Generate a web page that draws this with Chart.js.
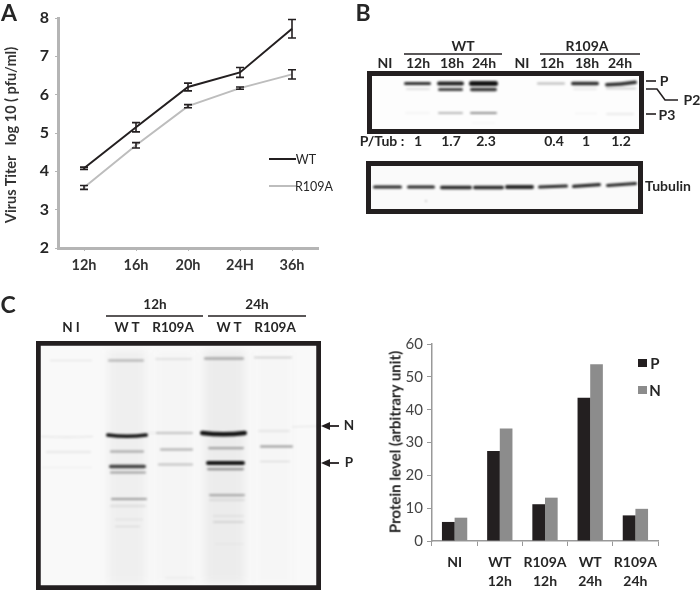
<!DOCTYPE html>
<html>
<head>
<meta charset="utf-8">
<script src="https://cdn.jsdelivr.net/npm/chart.js@4"></script>
<style>
  html, body { margin: 0; padding: 0; background: #fff; }
  #page { position: relative; width: 700px; height: 590px; overflow: hidden; font-family: Lato, "Open Sans", sans-serif; color: #262626; }
  canvas { position: absolute; }
  .t { position: absolute; white-space: pre; transform: translate(-50%, -50%); line-height: 1; }
</style>
</head>
<body>
<div id="page">
  <canvas id="blots" width="700" height="590" style="left:0;top:0"></canvas>
  <canvas id="chart-titer" width="340" height="290" style="left:0;top:0"></canvas>
  <canvas id="chart-protein" width="300" height="260" style="left:380px;top:330px"></canvas>
</div>
<script>
// Panel A data
const titerTimes = ["12h", "16h", "20h", "24H", "36h"];
const titerWT = [4.08, 5.15, 6.2, 6.58, 7.72];
const titerWTErr = [0.03, 0.12, 0.1, 0.13, 0.24];
const titerR109A = [3.58, 4.68, 5.7, 6.17, 6.53];
const titerR109AErr = [0.05, 0.07, 0.04, 0.03, 0.12];

// Panel C bar data
const proteinGroups = [["NI"], ["WT", "12h"], ["R109A", "12h"], ["WT", "24h"], ["R109A", "24h"]];
const proteinP = [5.8, 27.4, 11.2, 43.6, 7.8];
const proteinN = [7.1, 34.3, 13.2, 53.8, 9.8];

const page = document.getElementById("page");

function label(text, x, y, size, weight, opts) {
  opts = opts || {};
  const el = document.createElement("div");
  el.className = "t";
  el.textContent = text;
  el.style.left = x + "px";
  el.style.top = y + "px";
  el.style.fontSize = size + "px";
  el.style.fontWeight = weight;
  if (opts.color) el.style.color = opts.color;
  if (opts.rotate) el.style.transform = "translate(-50%, -50%) rotate(" + opts.rotate + "deg)";
  if (opts.spacing) el.style.letterSpacing = opts.spacing + "px";
  page.appendChild(el);
}

// Panel letters
label("A", 9, 12, 23, 700);
label("B", 363, 12, 23, 700);
label("C", 8, 304, 23, 700);

// Panel A text
label("Virus Titer   log 10 ( pfu/ml)", 11, 135, 14.5, 700, { rotate: -90, color: "#333" });
label("WT", 306, 160, 12.5, 400);
label("R109A", 314, 187, 12.5, 400);

// Panel B text
label("WT", 463, 46, 14, 700);
label("R109A", 587, 46, 14, 700);
[["NI", 385], ["12h", 418], ["18h", 452], ["24h", 484], ["NI", 522], ["12h", 552], ["18h", 587], ["24h", 620]]
  .forEach(l => label(l[0], l[1], 63, 14, 700));
[["P/Tub :", 382], ["1", 418], ["1.7", 451], ["2.3", 486], ["0.4", 554], ["1", 586], ["1.2", 621]]
  .forEach(l => label(l[0], l[1], 141, 14, 700));
label("P", 664, 81, 14, 700);
label("P2", 692, 100, 14, 700);
label("P3", 667, 115, 14, 700);
label("Tubulin", 668, 186, 14, 700);

// Panel C gel text
label("12h", 155, 305, 13.5, 700);
label("24h", 257, 305, 13.5, 700);
[["N I", 71], ["W T", 127], ["R109A", 173], ["W T", 229], ["R109A", 275]]
  .forEach(l => label(l[0], l[1], 328, 13.5, 700));
label("N", 349, 426, 13.5, 700);
label("P", 349, 463, 13.5, 700);

// Panel C bar chart text
label("Protein level (arbitrary unit)", 395, 442, 15, 700, { rotate: -90 });
label("P", 655, 363, 15, 700);
label("N", 655, 390, 15, 700);

// Blots are pictures in the original, just painted here
const ctx = document.getElementById("blots").getContext("2d");

function frame(x0, y0, x1, y1, w, bg) {
  ctx.fillStyle = bg;
  ctx.fillRect(x0, y0, x1 - x0, y1 - y0);
  ctx.strokeStyle = "#231f20";
  ctx.lineWidth = w;
  ctx.strokeRect(x0 + w / 2, y0 + w / 2, x1 - x0 - w, y1 - y0 - w);
}

// tilt lifts the right end, sag pushes the middle down
function band(x0, x1, y, h, alpha, tilt, sag) {
  tilt = tilt || 0;
  // weak bands read thinner and paler than their first estimate
  if (alpha < 0.6) {
    h *= 0.75;
    alpha *= 0.85;
  }
  ctx.save();
  ctx.filter = "blur(0.8px)";
  ctx.strokeStyle = "rgba(20,20,20," + alpha + ")";
  ctx.lineWidth = h;
  ctx.lineCap = "round";
  ctx.beginPath();
  ctx.moveTo(x0 + h / 2, y + tilt);
  ctx.quadraticCurveTo((x0 + x1) / 2, y + (sag || 0) * 2, x1 - h / 2, y - tilt);
  ctx.stroke();
  ctx.restore();
}

function smear(x0, x1, y0, y1, alpha) {
  ctx.save();
  ctx.filter = "blur(5px)";
  ctx.fillStyle = "rgba(90,90,90," + alpha + ")";
  ctx.fillRect(x0, y0, x1 - x0, y1 - y0);
  ctx.restore();
}

function stroke(points, w) {
  ctx.strokeStyle = "#231f20";
  ctx.lineWidth = w;
  ctx.beginPath();
  points.forEach((p, i) => i ? ctx.lineTo(p[0], p[1]) : ctx.moveTo(p[0], p[1]));
  ctx.stroke();
}

// Panel B top blot
frame(367, 71, 644, 134, 5, "#fdfdfd");
[[404, 431, 0.9, 3], [437, 464, 0.95, 4], [469, 498, 1, 5], [537, 565, 0.35, 2.6], [571, 599, 0.9, 3.4]]
  .forEach(b => band(b[0], b[1], 83.5, b[3], b[2]));
band(605, 637, 83.5, 3.6, 0.9, 1.2, 0.6);
band(406, 430, 89, 2, 0.2);
band(438, 463, 89.5, 3, 0.8);
band(470, 497, 89.5, 3.5, 0.85);
band(573, 597, 89, 1.8, 0.13);
band(606, 636, 88.5, 2, 0.28);
band(405, 430, 113, 1.5, 0.08);
band(438, 463, 113, 2.4, 0.35);
band(470, 497, 113, 2.6, 0.55);
band(575, 597, 113.5, 1.5, 0.06);
band(606, 634, 114, 2, 0.13);
band(472, 495, 123, 1.2, 0.06);

// Panel B tubulin blot
frame(366, 161, 643, 214, 5, "#fafafa");
[[373, 402, 187, 3.2, 0], [407, 435, 187, 3.2, 0], [440, 472, 187.5, 3.4, 0], [473, 504, 187.5, 3.6, 0],
  [505, 534, 187, 3.8, 0], [538, 568, 186.5, 3.2, 0.5], [572, 601, 185.5, 3.2, 0.8], [606, 637, 184.5, 3, 1]]
  .forEach(b => band(b[0], b[1], b[2], b[3], 0.92, b[4]));
band(425, 427, 201, 1.2, 0.5);

// Panel B brackets
stroke([[404, 54], [502, 54]], 1.4);
stroke([[540, 54], [640, 54]], 1.4);
stroke([[646, 81], [656, 81]], 1.6);
stroke([[646, 89], [657, 89], [665, 100], [678, 100]], 1.6);
stroke([[646, 114], [656, 114]], 1.6);

// Panel C gel
frame(36, 341, 321, 590, 4.5, "#f9f9f9");
smear(108, 146, 350, 584, 0.06);
smear(156, 193, 352, 584, 0.025);
smear(204, 245, 350, 584, 0.08);
smear(256, 292, 352, 584, 0.015);
ctx.strokeStyle = "#231f20";
ctx.lineWidth = 4.5;
ctx.strokeRect(38.25, 343.25, 280.5, 244.5);

// top band
band(50, 92, 360.5, 1.5, 0.12);
band(108, 144, 360.5, 2.6, 0.35);
band(155, 192, 359, 2, 0.14);
band(204, 244, 358.5, 3.4, 0.38);
band(254, 292, 357.5, 2.2, 0.22);
// N
band(41, 93, 436.5, 1.5, 0.13, 0, 0.6);
band(106, 148, 435, 3.6, 1, 0, 1.2);
band(148, 157, 433, 1.2, 0.12);
band(156, 193, 433, 2, 0.35);
band(200, 247, 433, 4.6, 1, 0, 1.2);
band(258, 290, 431, 2, 0.12);
band(292, 318, 426.5, 1.2, 0.12, 0.4);
// middle band
band(46, 91, 452, 1.5, 0.18);
band(110, 144, 451.5, 2.4, 0.42);
band(160, 193, 449.5, 2.4, 0.38);
band(208, 244, 448, 3, 0.4);
band(260, 293, 446.5, 2.6, 0.5);
// P
band(42, 92, 467.5, 1.2, 0.07);
band(109, 146, 466.5, 3.6, 0.8);
band(158, 193, 464.5, 2.4, 0.28);
band(206, 245, 463, 4.2, 1);
band(260, 290, 461.5, 1.6, 0.18);
band(110, 146, 472.5, 2.6, 0.45);
band(207, 244, 469, 3, 0.5);
// low bands
band(111, 147, 499, 2.6, 0.45);
band(110, 146, 506, 1.6, 0.2);
band(209, 245, 495, 3, 0.38);
band(209, 245, 500, 1.8, 0.14);
band(115, 143, 519.5, 1.5, 0.1);
band(115, 140, 526.5, 1.5, 0.14);
band(213, 244, 516, 1.5, 0.12);
band(213, 244, 522, 1.8, 0.17);
band(215, 244, 544, 1.5, 0.06);
band(165, 195, 578, 1.5, 0.08);

// Panel C header lines and arrows
stroke([[106, 316], [203, 316]], 1.4);
stroke([[208, 316], [306, 316]], 1.4);
[426, 463].forEach(y => {
  stroke([[329, y], [339, y]], 1.8);
  ctx.fillStyle = "#231f20";
  ctx.beginPath();
  ctx.moveTo(321, y);
  ctx.lineTo(330, y - 4);
  ctx.lineTo(330, y + 4);
  ctx.fill();
});

// Legend swatches and keys
stroke([[269, 159], [296, 159]], 2);
ctx.strokeStyle = "#bdbdbd";
ctx.lineWidth = 2;
ctx.beginPath();
ctx.moveTo(269, 186);
ctx.lineTo(296, 186);
ctx.stroke();
ctx.fillStyle = "#231f20";
ctx.fillRect(638, 359, 9, 8);
ctx.fillStyle = "#8c8c8c";
ctx.fillRect(638, 386, 9, 8);

// Error bars are not in Chart.js core
const errorBars = {
  id: "errorBars",
  afterDatasetsDraw(chart) {
    const c = chart.ctx;
    const y = chart.scales.y;
    chart.data.datasets.forEach((ds, i) => {
      chart.getDatasetMeta(i).data.forEach((pt, j) => {
        const top = y.getPixelForValue(ds.data[j] + ds.errors[j]);
        const bot = y.getPixelForValue(ds.data[j] - ds.errors[j]);
        c.save();
        c.strokeStyle = "#231f20";
        c.lineWidth = 1.6;
        c.beginPath();
        c.moveTo(pt.x, top);
        c.lineTo(pt.x, bot);
        c.moveTo(pt.x - 4, top);
        c.lineTo(pt.x + 4, top);
        c.moveTo(pt.x - 4, bot);
        c.lineTo(pt.x + 4, bot);
        c.stroke();
        c.restore();
      });
    });
  }
};

new Chart(document.getElementById("chart-titer"), {
  type: "line",
  plugins: [errorBars],
  data: {
    labels: titerTimes,
    datasets: [
      { label: "WT", data: titerWT, errors: titerWTErr, borderColor: "#231f20", borderWidth: 2, pointRadius: 0, tension: 0 },
      { label: "R109A", data: titerR109A, errors: titerR109AErr, borderColor: "#bdbdbd", borderWidth: 2, pointRadius: 0, tension: 0 }
    ]
  },
  options: {
    responsive: false,
    animation: false,
    layout: { padding: { top: 18, right: 22 } },
    plugins: { legend: { display: false }, tooltip: { enabled: false } },
    scales: {
      x: {
        offset: true,
        afterFit: s => { s.height = 42; },
        grid: { drawOnChartArea: false, offset: false, color: "#b5b5b5", tickLength: 3 },
        border: { color: "#b5b5b5", width: 3 },
        ticks: { color: "#333", padding: 6, font: { family: "Lato", size: 14.5, weight: "bold" } }
      },
      y: {
        min: 2,
        max: 8,
        afterFit: s => { s.width = 58; },
        grid: { drawOnChartArea: false, color: "#b5b5b5", tickLength: 3 },
        border: { color: "#b5b5b5", width: 3 },
        ticks: { stepSize: 1, color: "#262626", padding: 6, font: { family: "Lato", size: 16, weight: "bold" } }
      }
    }
  }
});

new Chart(document.getElementById("chart-protein"), {
  type: "bar",
  data: {
    labels: proteinGroups,
    datasets: [
      { label: "P", data: proteinP, backgroundColor: "#231f20" },
      { label: "N", data: proteinN, backgroundColor: "#8c8c8c" }
    ]
  },
  options: {
    responsive: false,
    animation: false,
    layout: { padding: { top: 14, right: 22 } },
    datasets: { bar: { categoryPercentage: 0.56, barPercentage: 1 } },
    plugins: { legend: { display: false }, tooltip: { enabled: false } },
    scales: {
      x: {
        afterFit: s => { s.height = 49; },
        grid: { drawOnChartArea: false, color: "#999", tickLength: 5 },
        border: { color: "#999", width: 1.5 },
        ticks: { autoSkip: false, color: "#262626", padding: 7, maxRotation: 0, font: { family: "Lato", size: 14, weight: "bold", lineHeight: 1.35 } }
      },
      y: {
        min: 0,
        max: 60,
        afterFit: s => { s.width = 52; },
        grid: { drawOnChartArea: false, color: "#999", tickLength: 5 },
        border: { color: "#999", width: 1.5 },
        ticks: { stepSize: 10, color: "#444", padding: 4, font: { family: "Lato", size: 15 } }
      }
    }
  }
});
</script>
</body>
</html>
